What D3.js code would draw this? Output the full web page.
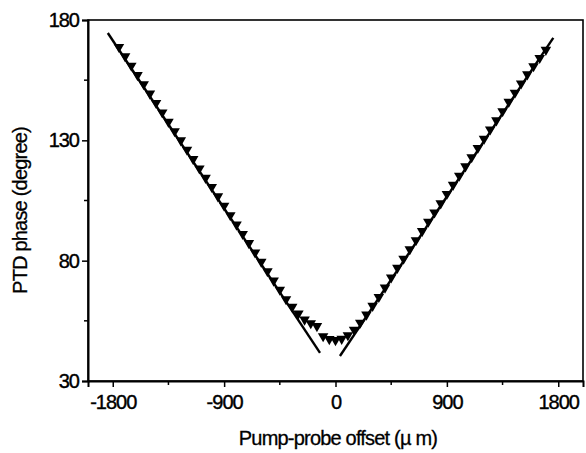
<!DOCTYPE html>
<html>
<head>
<meta charset="utf-8">
<script src="https://cdn.jsdelivr.net/npm/d3@7"></script>
<style>
  body { margin: 0; background: #fff; }
  text { font-family: "Liberation Sans", Arial, sans-serif; fill: #000; }
</style>
</head>
<body>
<svg id="chart" width="586" height="453"></svg>
<script>
// measured PTD phase vs pump-probe offset
var offsets = [-1750,-1700,-1650,-1600,-1550,-1500,-1450,-1400,-1350,-1300,-1250,-1200,-1150,-1100,-1050,-1000,
  -950,-900,-850,-800,-750,-700,-650,-600,-550,-500,-450,-400,-350,-300,-250,-200,-150,-100,-50,
  0,50,100,150,200,250,300,350,400,450,500,550,600,650,700,750,800,850,900,950,1000,
  1050,1100,1150,1200,1250,1300,1350,1400,1450,1500,1550,1600,1650,1700]
var phases = [168.8,164.9,161.0,157.1,153.3,149.4,145.5,141.6,137.7,133.8,130.0,126.1,122.2,118.3,114.4,110.6,
  106.7,102.8,98.9,95.0,91.1,87.3,83.4,79.5,75.6,71.7,67.9,64.0,60.8,58.0,55.5,54.0,52.8,48.6,47.4,
  47.0,47.5,49.0,51.3,54.2,57.6,61.2,64.9,68.8,73.0,77.0,80.8,84.7,88.5,92.3,96.2,100.0,103.8,107.7,111.5,115.3,
  119.2,123.0,126.8,130.6,134.5,138.3,142.1,146.0,149.8,153.6,157.4,160.8,164.2,167.6]

// linear fits, two end points each
var leftFitX = [-1840, -125], leftFitY = [174.6, 41.7]
var rightFitX = [36, 1760], rightFitY = [40.4, 172.6]

var xTicks = [-1800, -900, 0, 900, 1800]
var xMinor = [-1350, -450, 450, 1350]
var yTicks = [30, 80, 130, 180]
var yMinor = [55, 105, 155]

var margin = {left: 88, right: 3, top: 20, bottom: 72}
var W = 586, H = 453
var svg = d3.select("#chart")

var x = d3.scaleLinear().domain([-2000, 2000]).range([margin.left, W - margin.right])
var y = d3.scaleLinear().domain([30, 180]).range([H - margin.bottom, margin.top])

// frame
svg.append("rect")
  .attr("x", x(-2000)).attr("y", y(180))
  .attr("width", x(2000) - x(-2000)).attr("height", y(30) - y(180))
  .attr("fill", "none").attr("stroke", "#000").attr("stroke-width", 1.6)

// bottom axis (plain hyphen for negatives, as in the original)
var xAxis = svg.append("g").attr("transform", `translate(0,${y(30)})`)
  .call(d3.axisBottom(x).tickValues(xTicks).tickSize(6).tickPadding(8).tickFormat(d => String(d)))
xAxis.append("g").selectAll("line").data(xMinor).enter().append("line")
  .attr("x1", d => x(d)).attr("x2", d => x(d)).attr("y1", 0).attr("y2", 4)
  .attr("stroke", "#000").attr("stroke-width", 1.5)

var yAxis = svg.append("g").attr("transform", `translate(${x(-2000)},0)`)
  .call(d3.axisLeft(y).tickValues(yTicks).tickSize(6).tickPadding(3))
yAxis.append("g").selectAll("line").data(yMinor).enter().append("line")
  .attr("y1", d => y(d)).attr("y2", d => y(d)).attr("x1", 0).attr("x2", -4)
  .attr("stroke", "#000").attr("stroke-width", 1.5)

svg.selectAll(".domain").attr("stroke-width", 2)
svg.selectAll(".tick line").attr("stroke-width", 1.5)
svg.selectAll(".tick text")
  .style("font-family", '"Liberation Sans", Arial, sans-serif')
  .style("font-size", "20px").attr("letter-spacing", "-1px")
  .attr("stroke", "#000").attr("stroke-width", 0.4)

// fit lines
var line = d3.line().x(d => x(d[0])).y(d => y(d[1]))
svg.append("path").datum(d3.zip(leftFitX, leftFitY))
  .attr("d", line).attr("stroke", "#000").attr("stroke-width", 2.4).attr("fill", "none")
svg.append("path").datum(d3.zip(rightFitX, rightFitY))
  .attr("d", line).attr("stroke", "#000").attr("stroke-width", 2.4).attr("fill", "none")

// data: downward triangles
var tri = d3.symbol().type(d3.symbolTriangle).size(48)
svg.append("g").selectAll("path").data(d3.zip(offsets, phases)).enter().append("path")
  .attr("d", tri)
  .attr("transform", d => `translate(${x(d[0])},${y(d[1])}) rotate(180)`)
  .attr("fill", "#000")

// titles
svg.append("text")
  .attr("x", 338).attr("y", 445)
  .attr("text-anchor", "middle")
  .style("font-size", "20px").attr("letter-spacing", "-0.8px")
  .attr("stroke", "#000").attr("stroke-width", 0.3)
  .text("Pump-probe offset (\u00b5 m)")
svg.append("text")
  .attr("transform", `translate(27,${(y(30) + y(180)) / 2 + 10}) rotate(-90)`)
  .attr("text-anchor", "middle")
  .style("font-size", "20px").attr("letter-spacing", "-0.8px")
  .attr("stroke", "#000").attr("stroke-width", 0.3)
  .text("PTD phase (degree)")
</script>
</body>
</html>
